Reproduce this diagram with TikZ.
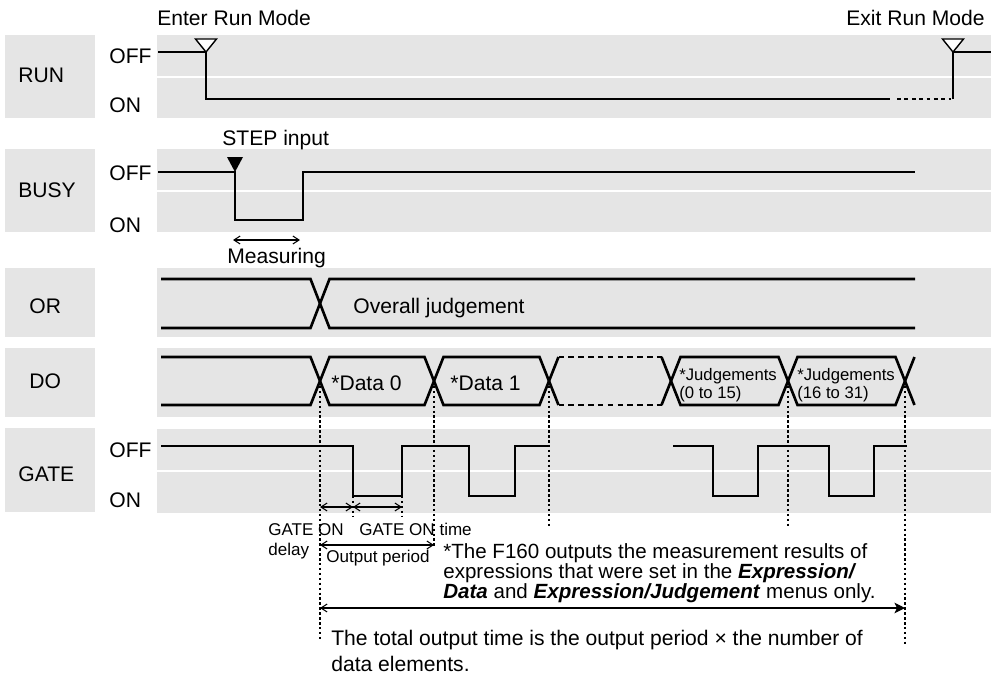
\documentclass[tikz,border=0pt]{standalone}
\usepackage{fontspec}
\setmainfont{Liberation Sans}
\usetikzlibrary{arrows.meta}

\newcommand{\bigfont}{\fontsize{12}{14}\selectfont}
\newcommand{\smallfont}{\fontsize{9.7}{11.3}\selectfont}
\newcommand{\stripleft}{157}
\newcommand{\stripright}{991}

\tikzset{
  sig/.style={line width=1.5pt},
  band/.style={fill=black!10},
  sep/.style={draw=white, line width=1.3pt},
  tick/.style={line width=0.9pt, dash pattern=on 1.4pt off 1.4pt},
  dimarrow/.style={line width=0.6pt, {Straight Barb[length=3.5pt,width=4.5pt]}-{Straight Barb[length=3.5pt,width=4.5pt]}},
  txt/.style={font=\bigfont, inner sep=0pt, anchor=base west},
  smalltxt/.style={font=\smallfont, inner sep=0pt, anchor=base west},
}

\begin{document}
\begin{tikzpicture}[x=0.02cm, y=-0.02cm]
\useasboundingbox (0,0) rectangle (991,677);

\fill[band] (5,35) rectangle (95,118);
\fill[band] (5,149) rectangle (95,232);
\fill[band] (5,268) rectangle (95,337);
\fill[band] (5,348) rectangle (95,417);
\fill[band] (5,428) rectangle (95,512);

\fill[band] (\stripleft,35) rectangle (\stripright,118);
\fill[band] (\stripleft,149) rectangle (\stripright,232);
\fill[band] (\stripleft,268) rectangle (\stripright,337);
\fill[band] (\stripleft,348) rectangle (\stripright,417);
\fill[band] (\stripleft,429) rectangle (\stripright,513);
\draw[sep] (\stripleft,77) -- (\stripright,77);
\draw[sep] (\stripleft,191) -- (\stripright,191);
\draw[sep] (\stripleft,471) -- (\stripright,471);

\node[txt] (run) at (18,82) {RUN};
\node[txt] (busy) at (18,197) {BUSY};
\node[txt] (or) at (29,313) {OR};
\node[txt] (do) at (29,388) {DO};
\node[txt] (gate) at (18,481) {GATE};

\node[txt] (runoff) at (109,63) {OFF};
\node[txt] (runon) at (109,112) {ON};
\node[txt] (busyoff) at (109,180) {OFF};
\node[txt] (busyon) at (109,232) {ON};
\node[txt] (gateoff) at (109,457) {OFF};
\node[txt] (gateon) at (109,507) {ON};

% RUN
\draw[sig] (158,52) -- (206,52) -- (206,99) -- (890,99);
\draw[sig, dash pattern=on 2.2pt off 2pt] (897,99) -- (951,99);
\draw[sig] (953,99) -- (953,52) -- (991,52);
\draw[line width=0.8pt, fill=white] (195.5,39) -- (216.5,39) -- (206,52) -- cycle;
\draw[line width=0.8pt, fill=white] (942.5,39) -- (963.5,39) -- (953,52) -- cycle;
\node[txt] (enter) at (157,25) {Enter Run Mode};
\node[txt] (exit) at (846,25) {Exit Run Mode};

% BUSY
\draw[sig] (158,172) -- (235,172) -- (235,220) -- (303,220) -- (303,172) -- (915,172);
\fill (227,157) -- (243,157) -- (235,172) -- cycle;
\node[txt] (step) at (222,145) {STEP input};
\coordinate (M1) at (233,240);
\coordinate (M2) at (300,240);
\draw[dimarrow] (M1) -- (M2);
\node[txt] (meas) at (227,263) {Measuring};

% OR
\draw[sig] (161,279) -- (310.5,279) -- (329.5,328) -- (915,328);
\draw[sig] (161,328) -- (310.5,328) -- (329.5,279) -- (915,279);
\node[txt] (overall) at (353,313) {Overall judgement};

% DO
\draw[sig] (161,357) -- (310.5,357) -- (329.5,405) -- (424.5,405) -- (443.5,357) -- (539.5,357) -- (558.5,405);
\draw[sig] (161,405) -- (310.5,405) -- (329.5,357) -- (424.5,357) -- (443.5,405) -- (539.5,405) -- (558.5,357);
\draw[sig, dash pattern=on 3.2pt off 2.4pt] (558.5,357) -- (661.5,357) (558.5,405) -- (661.5,405);
\draw[sig] (661.5,357) -- (680.5,405) -- (778.5,405) -- (797.5,357) -- (895.5,357) -- (914.5,405);
\draw[sig] (661.5,405) -- (680.5,357) -- (778.5,357) -- (797.5,405) -- (895.5,405) -- (914.5,357);
\node[txt] (data0) at (331,390) {*Data 0};
\node[txt] (data1) at (450,390) {*Data 1};
\node[inner sep=0pt, anchor=base west, align=left, font=\fontsize{9.5}{10.2}\selectfont] (judgeA) at (679,398) {*Judgements\\(0 to 15)};
\node[inner sep=0pt, anchor=base west, align=left, font=\fontsize{9.5}{10.2}\selectfont] (judgeB) at (797,398) {*Judgements\\(16 to 31)};

% GATE
\draw[sig] (161,446) -- (353,446) -- (353,496) -- (402,496) -- (402,446) -- (469,446) -- (469,496) -- (515,496) -- (515,446) -- (549,446);
\draw[sig] (673,446) -- (713,446) -- (713,496) -- (758,496) -- (758,446) -- (829,446) -- (829,496) -- (874,496) -- (874,446) -- (907,446);

\draw[tick] (320,381) -- (320,640);
\draw[tick] (434,381) -- (434,546);
\draw[tick] (549,381) -- (549,526);
\draw[tick] (788,381) -- (788,528);
\draw[tick] (905,381) -- (905,645);
\draw[tick] (353,496) -- (353,517);
\draw[tick] (402,496) -- (402,517);

\coordinate (D0) at (320,507);
\coordinate (D1) at (353,507);
\coordinate (D2) at (402,507);
\draw[dimarrow] (D0) -- (D1);
\draw[dimarrow] (D1) -- (D2);
\coordinate (P0) at (320,545);
\coordinate (P1) at (434,545);
\draw[dimarrow] (P0) -- (P1);
\coordinate (T0) at (320,608);
\coordinate (T1) at (905,608);
\draw[line width=0.6pt, {Straight Barb[length=3.5pt,width=4.5pt]}-{Stealth[length=6pt,width=6pt,inset=1.5pt]}] (T0) -- (T1);

\node[smalltxt, align=left] (delay) at (268,555) {GATE ON\\delay};
\node[smalltxt] (ontime) at (359,535) {GATE ON time};
\node[smalltxt] (period) at (326,562) {Output period};

\node[inner sep=0pt, anchor=base west, align=left, font=\fontsize{11.7}{11.3}\selectfont] (note) at (443,598)
  {*The F160 outputs the measurement results of\\expressions that were set in the \textbf{\textit{Expression/}}\\\textbf{\textit{Data}} and \textbf{\textit{Expression/Judgement}} menus only.};
\node[inner sep=0pt, anchor=base west, align=left, font=\fontsize{12}{14.7}\selectfont] (total) at (331,671)
  {The total output time is the output period × the number of\\data elements.};

\end{tikzpicture}
\end{document}
